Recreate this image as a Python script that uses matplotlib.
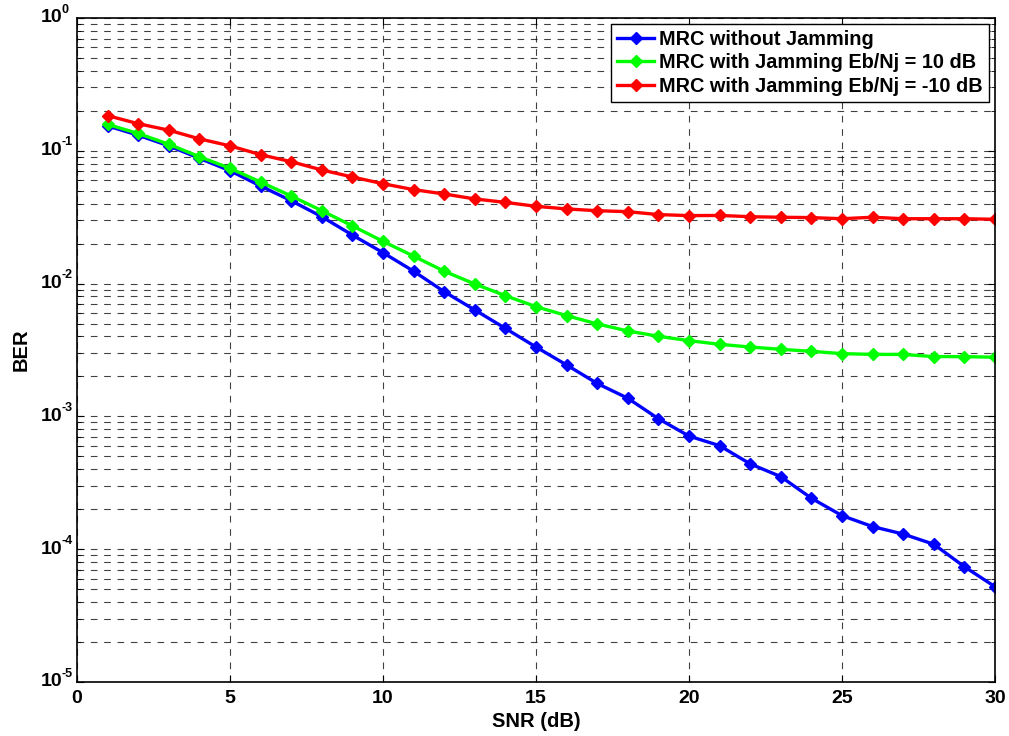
import math
import matplotlib
matplotlib.use("Agg")
import matplotlib.pyplot as plt
from matplotlib.ticker import LogLocator, FixedLocator, NullFormatter

plt.rcParams["font.family"] = ["Liberation Sans", "DejaVu Sans"]
plt.rcParams["font.weight"] = "bold"

snr = list(range(1, 31))

ber_no_jam = [0.154, 0.131, 0.109, 0.0878, 0.0708, 0.0543, 0.0421, 0.0319, 0.0232, 0.0171,
              0.0124, 0.00869, 0.00633, 0.00460, 0.00333, 0.00244, 0.00177, 0.00137, 0.000961, 0.000711,
              0.000602, 0.000439, 0.000352, 0.000242, 0.000179, 0.000148, 0.000130, 0.000109, 7.38e-5, 5.22e-5]
ber_jam_10 = [0.158, 0.135, 0.112, 0.0903, 0.0738, 0.0582, 0.0457, 0.0354, 0.0272, 0.0208,
              0.0161, 0.0124, 0.00993, 0.00811, 0.00670, 0.00574, 0.00497, 0.00440, 0.00401, 0.00372,
              0.00349, 0.00333, 0.00320, 0.00309, 0.00297, 0.00293, 0.00293, 0.00282, 0.00282, 0.00279]
ber_jam_m10 = [0.184, 0.160, 0.143, 0.123, 0.109, 0.0935, 0.0828, 0.0717, 0.0635, 0.0565,
               0.0510, 0.0473, 0.0434, 0.0409, 0.0382, 0.0365, 0.0354, 0.0348, 0.0331, 0.0325,
               0.0326, 0.0319, 0.0316, 0.0314, 0.0308, 0.0316, 0.0308, 0.0308, 0.0308, 0.0305]

labels = ["MRC without Jamming",
          "MRC with Jamming Eb/Nj = 10 dB",
          "MRC with Jamming Eb/Nj = -10 dB"]
colors = ["#0000ff", "#00ff00", "#ff0000"]
x_ticks = [0, 5, 10, 15, 20, 25, 30]
y_decades = [1e-5, 1e-4, 1e-3, 1e-2, 1e-1, 1e0]

fig = plt.figure(figsize=(10.09, 7.36), dpi=100)
ax = fig.add_axes([77 / 1009, 1 - 682 / 736, (995 - 77) / 1009, (682 - 18) / 736])

for ys, lbl, c in zip([ber_no_jam, ber_jam_10, ber_jam_m10], labels, colors):
    ax.semilogy(snr, ys, "-D", color=c, lw=2.4, ms=6.5, label=lbl)

ax.set_xlim(0, 30)
ax.set_ylim(1e-5, 1)
ax.xaxis.set_major_locator(FixedLocator(x_ticks))
ax.yaxis.set_major_locator(FixedLocator(y_decades))
ax.yaxis.set_minor_locator(LogLocator(base=10, subs=range(2, 10), numticks=20))
ax.yaxis.set_major_formatter(NullFormatter())
ax.yaxis.set_minor_formatter(NullFormatter())

# MATLAB-style "10^n" labels: big base, small raised exponent
for v in y_decades:
    ax.annotate("10", xy=(0, v), xycoords=("axes fraction", "data"),
                xytext=(-10.8, 0), textcoords="offset points",
                ha="right", va="center", fontsize=14, fontweight="bold")
    ax.annotate("%d" % round(math.log10(v)), xy=(0, v), xycoords=("axes fraction", "data"),
                xytext=(-10.8, 6.0), textcoords="offset points",
                ha="left", va="center", fontsize=9, fontweight="bold")

gl = dict(color="k", alpha=0.75, ls=(0, (6, 6)), lw=0.8)
ax.grid(True, which="major", axis="both", **gl)
ax.grid(True, which="minor", axis="y", **gl)

ax.tick_params(which="both", direction="in", top=True, right=True, labelsize=14)
ax.tick_params(axis="x", pad=6)
ax.tick_params(which="major", length=5)
ax.tick_params(which="minor", length=3)
for lab in ax.get_xticklabels():
    lab.set_fontweight("bold")
for sp in ax.spines.values():
    sp.set_linewidth(1.2)

ax.set_xlabel("SNR (dB)", fontsize=14.5, fontweight="bold", labelpad=3.5)
ax.set_ylabel("BER", fontsize=14.5, fontweight="bold", labelpad=30)

leg = ax.legend(loc="upper right", fontsize=14.3, handlelength=1.9, handletextpad=0.25,
                borderpad=0.3, labelspacing=0.22, fancybox=False, framealpha=1,
                edgecolor="k", borderaxespad=0.3)
leg.get_frame().set_linewidth(1.0)
for t in leg.get_texts():
    t.set_fontweight("bold")

fig.savefig("out.png", dpi=100)
